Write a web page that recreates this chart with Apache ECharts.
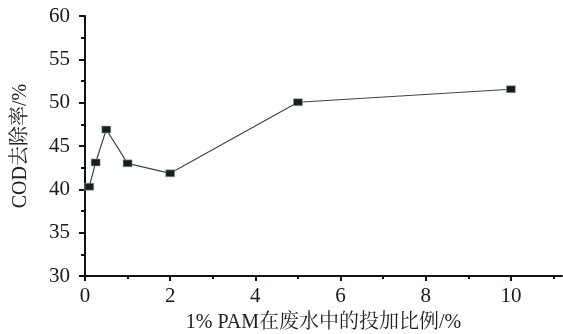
<!DOCTYPE html>
<html><head><meta charset="utf-8">
<script src="https://cdn.jsdelivr.net/npm/echarts@6/dist/echarts.min.js"></script>
<style>html,body{margin:0;padding:0;background:#fff}#c{width:563px;height:334px}</style>
</head><body><div id="c"></div>
<script>
const xValues = [0.1, 0.25, 0.5, 1, 2, 5, 10];
const codRemoval = [40.3, 43.1, 46.9, 43.0, 41.85, 50.05, 51.55];
const xTicks = [0, 2, 4, 6, 8, 10];
const yTicks = [30, 35, 40, 45, 50, 55, 60];
const xName = '1% PAM在废水中的投加比例/%';
const yName = 'COD去除率/%';

const font = '"Liberation Serif", "Noto Serif CJK SC", "Noto Sans CJK SC", serif';
const axisColor = '#0d1414';
const chart = echarts.init(document.getElementById('c'));
chart.setOption({
  animation: false,
  backgroundColor: '#fff',
  grid: { left: 85, right: 1, top: 16, bottom: 58, containLabel: false, outerBoundsMode: 'none' },
  xAxis: {
    type: 'value', min: 0, max: 11.2, interval: 2,
    name: xName, nameLocation: 'middle', nameGap: 37,
    nameTextStyle: { fontFamily: font, fontSize: 20, color: '#222' },
    axisLine: { show: true, lineStyle: { color: axisColor, width: 2 } },
    axisTick: { show: true, length: 5, lineStyle: { color: axisColor, width: 2 }, customValues: xTicks },
    minorTick: { show: true, splitNumber: 2, length: 3, lineStyle: { color: axisColor, width: 2 } },
    axisLabel: { fontFamily: font, fontSize: 21, color: '#1a1a1a', margin: 10, customValues: xTicks },
    splitLine: { show: false }, minorSplitLine: { show: false }
  },
  yAxis: {
    type: 'value', min: 30, max: 60, interval: 5,
    name: yName, nameLocation: 'middle', nameGap: 54,
    nameTextStyle: { fontFamily: font, fontSize: 20, color: '#222' },
    axisLine: { show: true, lineStyle: { color: axisColor, width: 2 } },
    axisTick: { show: true, length: 6, lineStyle: { color: axisColor, width: 2 }, customValues: yTicks },
    minorTick: { show: true, splitNumber: 2, length: 4, lineStyle: { color: axisColor, width: 2 } },
    axisLabel: { fontFamily: font, fontSize: 21, color: '#1a1a1a', margin: 15, customValues: yTicks },
    splitLine: { show: false }, minorSplitLine: { show: false }
  },
  series: [{
    type: 'line',
    data: xValues.map((x, i) => [x, codRemoval[i]]),
    symbol: 'rect', symbolSize: [9, 7], showAllSymbol: true,
    lineStyle: { color: '#444', width: 1.2 },
    itemStyle: { color: '#142020', borderColor: '#9aa', borderWidth: 0.6 }
  }]
});
</script></body></html>
